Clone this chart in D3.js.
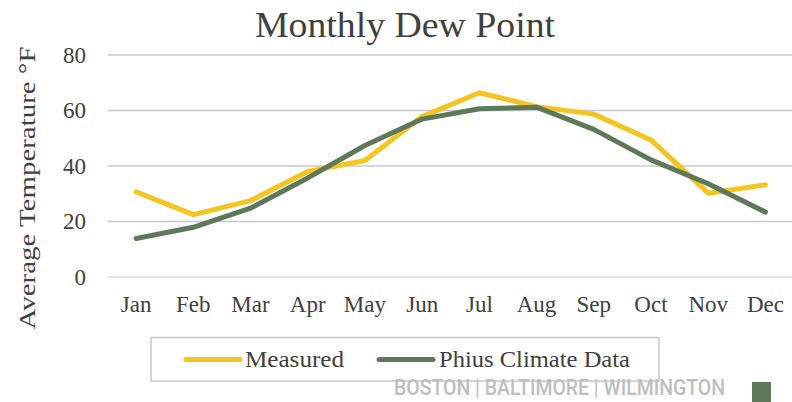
<!DOCTYPE html>
<html>
<head>
<meta charset="utf-8">
<script src="https://cdn.jsdelivr.net/npm/d3@7"></script>
<style>
  body { margin: 0; background: #fff; }
  text { font-family: "Liberation Serif", serif; fill: #404040; }
</style>
</head>
<body>
<div id="chart"></div>
<script>
// chart data
var months = ["Jan", "Feb", "Mar", "Apr", "May", "Jun", "Jul", "Aug", "Sep", "Oct", "Nov", "Dec"];
var measured = [30.7, 22.5, 27.5, 38, 42, 57.8, 66.4, 61.4, 58.7, 49.4, 30.2, 33.2];
var phius = [13.9, 17.9, 24.8, 35.7, 47.4, 56.9, 60.6, 61.2, 53.2, 42.2, 33.6, 23.4];
var yTicks = [0, 20, 40, 60, 80];
var seriesNames = ["Measured", "Phius Climate Data"];

var svgWidth = 792;
var svgHeight = 402;

var yellow = "#F4C520";
var green = "#5E785A";

var svg = d3.select("#chart")
  .append("svg")
  .attr("width", svgWidth)
  .attr("height", svgHeight);

var x = d3.scaleBand()
  .domain(months)
  .range([107.5, 794]);

var y = d3.scaleLinear()
  .domain([0, 80])
  .range([277, 55]);

// gridlines
svg.append("g")
  .selectAll("line")
  .data(yTicks)
  .enter()
  .append("line")
  .attr("x1", 107.5)
  .attr("x2", 794)
  .attr("y1", d => y(d))
  .attr("y2", d => y(d))
  .attr("stroke", d => d === 0 ? "#DEDEDE" : "#C8C8C8")
  .attr("stroke-width", 1.5);

// y axis labels
var yAxis = svg.append("g")
  .attr("transform", "translate(86,0)")
  .call(d3.axisLeft(y).tickValues(yTicks).tickSize(0).tickPadding(0));
yAxis.select(".domain").remove();
yAxis.selectAll("text")
  .style("font-family", "Liberation Serif")
  .style("font-size", "23px")
  .attr("fill", "#404040");

// x axis labels
var xAxis = svg.append("g")
  .attr("transform", "translate(0,296)")
  .call(d3.axisBottom(x).tickSize(0).tickPadding(0));
xAxis.select(".domain").remove();
xAxis.selectAll("text")
  .style("font-family", "Liberation Serif")
  .style("font-size", "23px")
  .attr("fill", "#404040");

// lines
var line = d3.line()
  .x((d, i) => x(months[i]) + x.bandwidth() / 2)
  .y(d => y(d));

svg.append("path")
  .datum(measured)
  .attr("d", line)
  .attr("fill", "none")
  .attr("stroke", yellow)
  .attr("stroke-width", 5)
  .attr("stroke-linecap", "round")
  .attr("stroke-linejoin", "round");

svg.append("path")
  .datum(phius)
  .attr("d", line)
  .attr("fill", "none")
  .attr("stroke", green)
  .attr("stroke-width", 5)
  .attr("stroke-linecap", "round")
  .attr("stroke-linejoin", "round");

// title
svg.append("text")
  .attr("x", 405)
  .attr("y", 37)
  .attr("text-anchor", "middle")
  .style("font-size", "36px")
  .attr("textLength", 300)
  .attr("lengthAdjust", "spacingAndGlyphs")
  .text("Monthly Dew Point");

// y axis title
svg.append("text")
  .attr("transform", "translate(35,188) rotate(-90)")
  .attr("text-anchor", "middle")
  .style("font-size", "24px")
  .attr("textLength", 283)
  .attr("lengthAdjust", "spacingAndGlyphs")
  .text("Average Temperature °F");

// legend
svg.append("rect")
  .attr("x", 151)
  .attr("y", 337.5)
  .attr("width", 508)
  .attr("height", 43.5)
  .attr("fill", "none")
  .attr("stroke", "#C8C8C8")
  .attr("stroke-width", 1.5);

var legendItems = [
  { name: seriesNames[0], color: yellow, x1: 186, x2: 240, tx: 245, tw: 99 },
  { name: seriesNames[1], color: green, x1: 379, x2: 433, tx: 439, tw: 191 }
];

legendItems.forEach(function(d) {
  svg.append("line")
    .attr("x1", d.x1)
    .attr("x2", d.x2)
    .attr("y1", 359.5)
    .attr("y2", 359.5)
    .attr("stroke", d.color)
    .attr("stroke-width", 5)
    .attr("stroke-linecap", "round");
  svg.append("text")
    .attr("x", d.tx)
    .attr("y", 366.5)
    .style("font-size", "23px")
    .attr("textLength", d.tw)
    .attr("lengthAdjust", "spacingAndGlyphs")
    .text(d.name);
});

// footer
svg.append("text")
  .attr("x", 394)
  .attr("y", 395)
  .style("font-family", "Roboto, 'Liberation Sans', sans-serif")
  .style("font-weight", "500")
  .style("font-size", "22px")
  .style("fill", "#BEBEBE")
  .attr("textLength", 331)
  .attr("lengthAdjust", "spacingAndGlyphs")
  .text("BOSTON\u00a0|\u00a0BALTIMORE\u00a0|\u00a0WILMINGTON");

svg.append("rect")
  .attr("x", 752)
  .attr("y", 382)
  .attr("width", 19)
  .attr("height", 20)
  .attr("fill", green);
</script>
</body>
</html>
